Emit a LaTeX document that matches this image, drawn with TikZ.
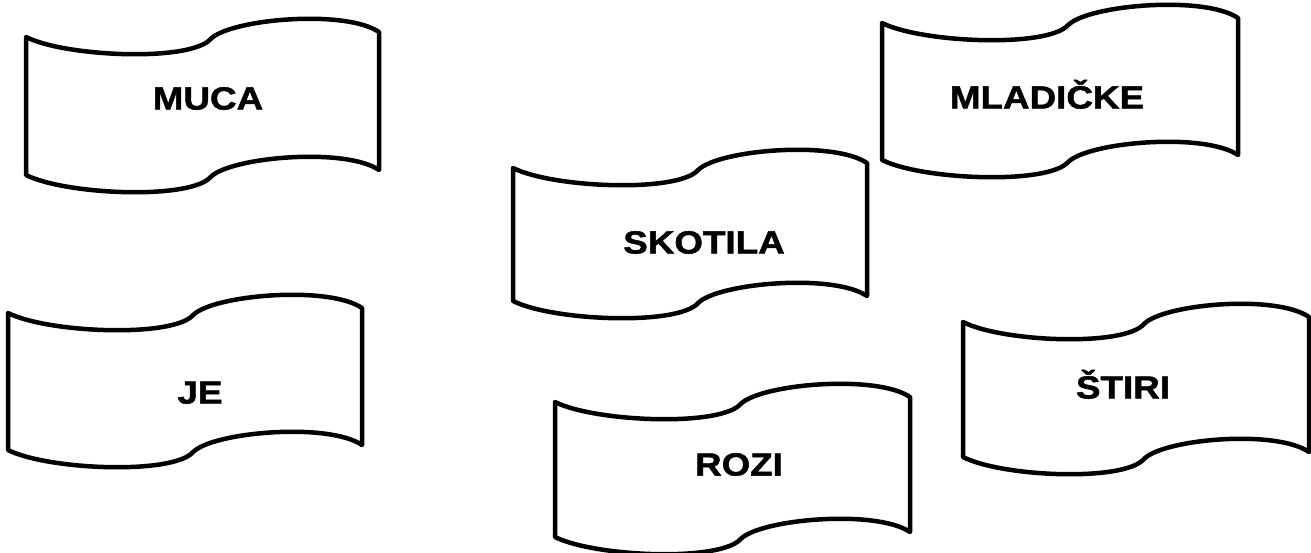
\documentclass[tikz,border=0pt]{standalone}
\usepackage{fontspec}
\newfontfamily\wordfont[FakeStretch=1.15, BoldFeatures={FakeBold=1.5}]{Liberation Sans}
\usetikzlibrary{positioning}

\tikzset{
	pics/wave/.style 2 args={code={
		\draw[line width=4.5pt, line join=round, fill=white] (0,0) .. controls ({0.113*#1},20) and ({0.466*#1},25) .. ({0.523*#1},2) .. controls ({0.579*#1},-18) and ({0.904*#1},-28) .. (#1,-5) -- (#1,{#2-5}) .. controls ({0.904*#1},{#2-28}) and ({0.579*#1},{#2-18}) .. ({0.523*#1},{#2+2}) .. controls ({0.466*#1},{#2+25}) and ({0.113*#1},{#2+20}) .. (0,#2) -- cycle;
	}},
	word/.style={font=\fontsize{32}{38}\wordfont\bfseries, text height=23pt, text depth=0pt, inner sep=0pt}
}

\begin{document}
\begin{tikzpicture}[x=1pt, y=-1pt]
			\useasboundingbox (0,0) rectangle (1311,552);
			\pic at (26,37) {wave={353}{138}};
			\pic at (8,313) {wave={354}{137}};
			\pic at (513,168) {wave={354}{133}};
			\pic at (882,23) {wave={356}{137}};
			\pic at (963,322) {wave={346}{135}};
			\pic at (555,402) {wave={355}{135}};
			
			\node (muca) at (208,98) [word] {MUCA};
			\node (je) at (200,392) [word] {JE};
			\node (skotila) at (704,242) [word] {SKOTILA};
			\node (mladicke) at (1047,97) [word] {MLADIČKE};
			\node (stiri) at (1123,387) [word] {ŠTIRI};
			\node (rozi) at (739,464) [word] {ROZI};
		\end{tikzpicture}
\end{document}
